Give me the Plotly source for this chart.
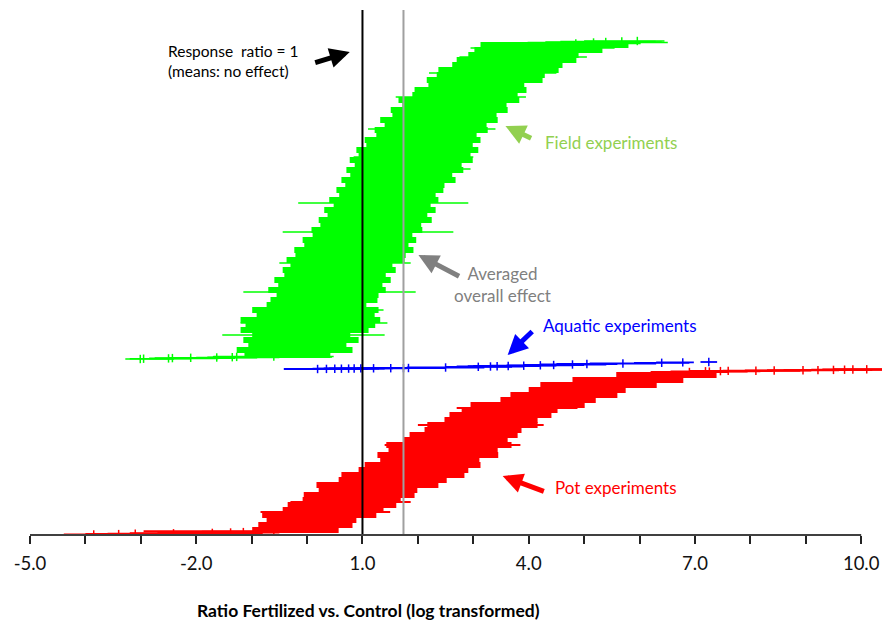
import numpy as np
import plotly.graph_objects as go

# ---------------- data (log response ratio per study, sorted by rank) ----------------
tick_values = [-5, -2, 1, 4, 7, 10]
tick_labels = ["-5.0", "-2.0", "1.0", "4.0", "7.0", "10.0"]
no_effect_x = 1.0
overall_effect_x = 1.74

# Field experiments (main band rows)
green_rank = [180, 185, 190, 195, 200, 205, 210, 215, 220, 225, 230, 235, 240, 245, 250, 255,
              260, 265, 270, 275, 280, 285, 290, 295, 300, 305, 310, 315, 320, 325, 330, 335,
              340, 345, 350, 355, 360, 365, 370, 375, 380, 385, 390, 395, 400, 405, 410, 415,
              420, 425, 430, 435, 440, 445, 450, 455, 460, 465, 470, 475, 480, 485, 490]
green_mean = [-0.36, -0.23, -0.17, -0.11, -0.10, -0.05, 0.06, 0.06, 0.15, 0.15, 0.17, 0.30, 0.37, 0.36,
              0.42, 0.46, 0.50, 0.58, 0.62, 0.69, 0.78, 0.85, 0.89, 0.95, 1.00, 1.08, 1.15, 1.23, 1.27,
              1.32, 1.35, 1.39, 1.45, 1.50, 1.59, 1.65, 1.70, 1.77, 1.82, 1.88, 1.94, 1.99, 2.03, 2.08,
              2.16, 2.24, 2.32, 2.38, 2.48, 2.56, 2.66, 2.74, 2.85, 2.95, 3.06, 3.20, 3.31, 3.46, 3.62,
              3.78, 3.91, 4.18, 4.47]
green_lo = [-1.13, -1.27, -1.06, -1.15, -0.99, -1.20, -1.11, -1.20, -0.91, -0.99, -0.73, -0.66, -0.55,
            -0.70, -0.52, -0.59, -0.41, -0.44, -0.30, -0.37, -0.21, -0.23, -0.05, -0.08, 0.10, 0.08,
            0.24, 0.21, 0.37, 0.31, 0.48, 0.40, 0.58, 0.53, 0.69, 0.62, 0.78, 0.71, 0.86, 0.77, 0.93,
            0.89, 1.07, 1.04, 1.25, 1.22, 1.40, 1.32, 1.54, 1.51, 1.72, 1.65, 1.90, 1.94, 2.19, 2.16,
            2.34, 2.37, 2.62, 2.70, 2.91, 3.02, 3.13]
green_hi = [0.42, 0.82, 0.71, 0.93, 0.78, 1.11, 1.23, 1.32, 1.22, 1.29, 1.07, 1.27, 1.29, 1.42, 1.36,
            1.51, 1.42, 1.60, 1.54, 1.76, 1.78, 1.92, 1.83, 1.97, 1.90, 2.08, 2.06, 2.25, 2.17, 2.32,
            2.23, 2.37, 2.32, 2.46, 2.48, 2.68, 2.62, 2.82, 2.79, 2.99, 2.95, 3.09, 2.99, 3.13, 3.06,
            3.26, 3.24, 3.44, 3.42, 3.62, 3.60, 3.83, 3.80, 3.96, 3.92, 4.25, 4.29, 4.54, 4.61, 4.86,
            4.90, 5.33, 5.80]

# Field experiments (tails and wide-CI studies)
green2_rank = [176.0, 176.3, 176.6, 176.9, 177.2, 177.5, 177.8, 178.1, 178.5, 200, 212, 225, 243, 272,
               303, 332, 366, 378, 406, 438, 462, 478, 487, 491.5, 492.5, 493.0, 493.5, 494.0]
green2_mean = [-3.01, -2.95, -2.50, -2.43, -2.10, -1.63, -1.35, -1.27, -0.60, -0.07, 0.00, 0.12, 0.40,
               0.65, 1.10, 1.38, 1.80, 1.95, 2.25, 2.80, 3.35, 3.90, 4.20, 4.85, 5.17, 5.39, 5.68, 5.96]
green2_lo = [-3.28, -3.20, -2.85, -2.75, -2.50, -2.00, -1.80, -1.70, -1.69, -1.53, -1.20, -0.97, -1.15,
             -0.50, -0.44, -0.16, 0.91, 0.84, 1.10, 1.60, 2.20, 2.75, 2.95, 3.67, 3.98, 4.30, 4.57, 5.00]
green2_hi = [-2.40, -2.10, -1.60, -1.30, -0.90, -0.50, 0.00, 0.45, 0.48, 1.40, 1.45, 1.38, 1.96, 1.87,
             2.64, 2.91, 2.95, 3.00, 3.40, 3.95, 4.50, 5.05, 5.55, 6.02, 6.51, 6.40, 6.29, 6.45]

# Aquatic experiments
blue_rank = [166.0, 166.1, 166.2, 166.3, 166.4, 166.5, 166.6, 166.7, 166.8, 166.9, 167.0, 167.5, 168.2,
             168.5, 168.8, 169.0, 169.3, 169.7, 170.0, 170.5, 171.0, 171.5, 172.2, 172.6, 173.0]
blue_mean = [0.19, 0.35, 0.50, 0.62, 0.75, 0.85, 0.97, 1.20, 1.51, 1.74, 1.83, 2.50, 3.09, 3.31, 3.43,
             3.63, 3.91, 4.21, 4.45, 4.79, 5.05, 5.70, 6.40, 6.78, 7.25]
blue_lo = [-0.42, -0.20, 0.00, 0.10, 0.20, 0.30, 0.40, 0.60, 0.90, 1.10, 1.20, 1.80, 2.50, 2.70, 2.90,
           3.00, 3.30, 3.60, 3.90, 4.20, 4.50, 5.10, 5.90, 6.30, 7.10]
blue_hi = [0.80, 0.90, 1.10, 1.20, 1.30, 1.40, 1.55, 1.80, 2.10, 2.30, 2.50, 3.20, 3.70, 3.90, 4.00,
           4.20, 4.50, 4.80, 5.00, 5.40, 5.60, 6.30, 6.90, 6.98, 7.40]

# Pot experiments (main band rows)
red_rank = [5, 10, 15, 20, 25, 30, 35, 40, 45, 50, 55, 60, 65, 70, 75, 80, 85, 90, 95, 100, 105, 110,
            115, 120, 125, 130, 135, 140, 145, 150, 155, 160]
red_mean = [-0.21, -0.03, 0.08, 0.22, 0.47, 0.63, 0.80, 0.94, 1.10, 1.27, 1.54, 1.73, 1.92, 2.08, 2.22,
            2.36, 2.45, 2.56, 2.68, 2.82, 2.99, 3.17, 3.32, 3.49, 3.65, 3.98, 4.35, 4.64, 4.87, 5.26,
            5.79, 6.49]
red_lo = [-0.99, -0.88, -0.73, -0.81, -0.44, -0.35, -0.08, -0.06, 0.21, 0.17, 0.57, 0.62, 0.93, 1.04,
          1.32, 1.27, 1.47, 1.43, 1.74, 1.85, 2.12, 2.17, 2.48, 2.57, 2.79, 2.95, 3.49, 3.67, 4.00,
          4.21, 4.79, 5.58]
red_hi = [0.57, 0.82, 0.89, 1.25, 1.38, 1.61, 1.69, 1.94, 1.99, 2.37, 2.52, 2.84, 2.91, 3.13, 3.11,
          3.45, 3.44, 3.69, 3.62, 3.80, 3.87, 4.16, 4.16, 4.41, 4.52, 5.01, 5.21, 5.60, 5.75, 6.31,
          6.79, 7.39]

# Pot experiments (tails and wide-CI studies)
red2_rank = [0.5, 0.9, 1.3, 1.7, 2.1, 2.5, 2.9, 3.3, 3.7, 23, 33, 90, 110, 127,
             163.0, 163.4, 163.7, 163.9, 164.1, 164.3, 164.5, 164.7, 164.9, 165.1, 165.3, 165.5, 165.7]
red2_mean = [-3.85, -3.40, -3.10, -2.41, -1.71, -1.38, -1.15, -0.95, -0.60, 0.35, 0.75, 2.60, 3.10, 3.75,
             6.90, 7.26, 7.19, 7.46, 7.60, 8.10, 8.43, 8.95, 9.22, 9.50, 9.70, 9.85, 10.10]
red2_lo = [-4.39, -4.00, -3.60, -3.20, -2.70, -2.20, -2.00, -1.90, -2.95, -0.84, -0.30, 1.40, 2.00, 2.70,
           6.20, 6.56, 6.92, 6.90, 7.10, 7.50, 7.90, 8.30, 8.60, 8.90, 9.10, 9.30, 9.50]
red2_hi = [-3.20, -2.60, -2.30, -1.60, -0.80, -0.50, -0.20, 0.10, 0.55, 1.50, 1.87, 3.85, 4.27, 4.88,
           7.60, 7.95, 8.18, 8.30, 8.40, 8.90, 9.10, 9.60, 9.90, 10.20, 10.40, 10.60, 10.80]

GREEN = "#00ff00"
RED = "#ff0000"
BLUE = "#0000ff"
FONT = "Lato"


def forest_rows(rank, mean, lo, hi, color, thickness, msize):
    m = np.asarray(mean, dtype=float)
    return go.Scatter(
        x=m, y=rank, mode="markers",
        marker=dict(symbol="line-ns", size=msize, color=color,
                    line=dict(color=color, width=1.5)),
        error_x=dict(type="data", symmetric=False,
                     array=np.asarray(hi, dtype=float) - m,
                     arrayminus=m - np.asarray(lo, dtype=float),
                     color=color, thickness=thickness, width=0),
        hoverinfo="skip", showlegend=False,
    )


fig = go.Figure()
fig.add_trace(forest_rows(green_rank, green_mean, green_lo, green_hi, GREEN, 6, 4))
fig.add_trace(forest_rows(green2_rank, green2_mean, green2_lo, green2_hi, GREEN, 1.6, 6))
fig.add_trace(forest_rows(blue_rank, blue_mean, blue_lo, blue_hi, BLUE, 1.8, 6))
fig.add_trace(forest_rows(red_rank, red_mean, red_lo, red_hi, RED, 6, 4))
fig.add_trace(forest_rows(red2_rank, red2_mean, red2_lo, red2_hi, RED, 2, 6))

shapes = [
    dict(type="line", xref="x", yref="paper", x0=no_effect_x, x1=no_effect_x, y0=0, y1=1,
         line=dict(color="#000000", width=2)),
    dict(type="line", xref="x", yref="paper", x0=overall_effect_x, x1=overall_effect_x, y0=0, y1=1,
         line=dict(color="#a0a0a0", width=2)),
    dict(type="line", xref="x", yref="paper", x0=tick_values[0], x1=tick_values[-1], y0=0, y1=0,
         line=dict(color="#404040", width=2)),
]


def arrow(x_tip, y_tip, x_tail, y_tail, color):
    return dict(x=x_tip, y=y_tip, ax=x_tail, ay=y_tail, xref="x", yref="y", axref="x", ayref="y",
                text="", showarrow=True, arrowhead=2, arrowsize=0.8, arrowwidth=5,
                arrowcolor=color, standoff=0, startstandoff=0)


annotations = [
    dict(x=-2.55, y=474, xref="x", yref="y", text="Response  ratio = 1<br>(means: no effect)",
         showarrow=False, xanchor="left", yanchor="middle", align="left",
         font=dict(family=FONT, size=15.5, color="#000000")),
    arrow(0.77, 483, 0.12, 472, "#000000"),
    dict(x=4.25, y=393, xref="x", yref="y", text="Field experiments", showarrow=False,
         xanchor="left", yanchor="middle", font=dict(family=FONT, size=17, color="#92d050")),
    arrow(3.58, 409, 4.07, 396, "#92d050"),
    dict(x=3.53, y=251, xref="x", yref="y", text="Averaged<br>overall effect", showarrow=False,
         xanchor="center", yanchor="middle", align="center",
         font=dict(family=FONT, size=17, color="#808080")),
    arrow(2.01, 280, 2.77, 258, "#808080"),
    dict(x=4.23, y=210, xref="x", yref="y", text="Aquatic experiments", showarrow=False,
         xanchor="left", yanchor="middle", font=dict(family=FONT, size=17, color="#0000ff")),
    arrow(3.62, 180, 4.09, 205, "#0000ff"),
    dict(x=4.43, y=48, xref="x", yref="y", text="Pot experiments", showarrow=False,
         xanchor="left", yanchor="middle", font=dict(family=FONT, size=17, color="#ff0000")),
    arrow(3.53, 59, 4.30, 43, "#ff0000"),
    dict(x=1.1, y=-0.143, xref="x", yref="paper", text="<b>Ratio Fertilized vs. Control (log transformed)</b>",
         showarrow=False, xanchor="center", yanchor="middle",
         font=dict(family=FONT, size=17.5, color="#000000")),
]

# the page body has an 8 px default margin, so the figure is 8 px smaller on each axis
fig.update_layout(
    width=882, height=614,
    margin=dict(l=22, r=0, t=2, b=87),
    paper_bgcolor="white", plot_bgcolor="white",
    showlegend=False,
    shapes=shapes, annotations=annotations,
    xaxis=dict(range=[-5, 10.52], tickmode="array", tickvals=tick_values, ticktext=tick_labels,
               ticks="outside", ticklen=8, tickwidth=1.5, tickcolor="#222222",
               ticklabelstandoff=4,
               minor=dict(tickmode="linear", tick0=-5, dtick=1, ticks="outside", ticklen=8,
                          tickwidth=1.5, tickcolor="#222222", showgrid=False),
               showgrid=False, zeroline=False, showline=False,
               tickfont=dict(family=FONT, size=18.5, color="#111111")),
    yaxis=dict(range=[0, 525], visible=False, fixedrange=True),
)

fig.write_html("out.html")
